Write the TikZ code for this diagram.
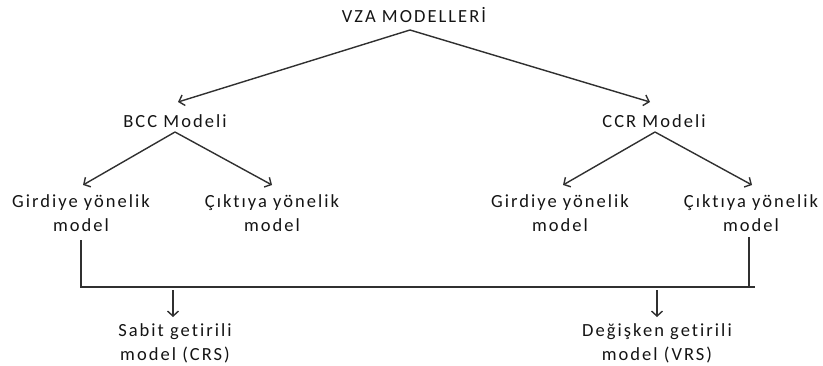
\documentclass[tikz,border=0pt]{standalone}
\usepackage{fontspec}
\setmainfont{Carlito}[LetterSpace=11,Ligatures={NoCommon,NoRequired,NoContextual}]
\usetikzlibrary{arrows.meta}
\definecolor{txt}{HTML}{141414}
\definecolor{ln}{HTML}{303030}
\begin{document}
\begin{tikzpicture}[x=1pt,y=-1pt,
  lbl/.style={anchor=base,inner sep=0pt,align=center,text=txt,
    font=\fontsize{18.5}{24}\selectfont},
  conn/.style={draw=ln,line width=1.4pt},
  arr/.style={conn,-{Straight Barb[length=5pt,width=11pt]}}]
\useasboundingbox (0,0) rectangle (823,365);
\node[lbl] (vza) at (414,22) {VZA MODELLERİ};
\node[lbl] (bcc) at (175,127) {BCC Modeli};
\node[lbl] (ccr) at (654,127) {CCR Modeli};
% multi-line nodes: base anchor is the baseline of the last line
\node[lbl] (gl) at (81,231) {Girdiye yönelik\\model};
\node[lbl] (cl) at (272,231) {Çıktıya yönelik\\model};
\node[lbl] (gr) at (560,231) {Girdiye yönelik\\model};
\node[lbl] (cr) at (751,231) {Çıktıya yönelik\\model};
\node[lbl] (crs) at (175,360) {Sabit getirili\\model (CRS)};
\node[lbl] (vrs) at (657,360) {Değişken getirili\\model (VRS)};
\coordinate (jl) at (81,287);
\coordinate (je) at (755,287);
% top level
\draw[arr] ([xshift=-4pt,yshift=-8pt]vza.base) -- ([xshift=3pt,yshift=25pt]bcc.base);
\draw[arr] ([xshift=-4pt,yshift=-8pt]vza.base) -- ([xshift=-4pt,yshift=25pt]ccr.base);
% second level
\draw[arr] ([yshift=-5pt]bcc.base) -- ([xshift=2pt,yshift=46pt]gl.base);
\draw[arr] ([yshift=-5pt]bcc.base) -- ([yshift=46pt]cl.base);
\draw[arr] ([xshift=1pt,yshift=-5pt]ccr.base) -- ([xshift=3pt,yshift=46pt]gr.base);
\draw[arr] ([xshift=1pt,yshift=-5pt]ccr.base) -- ([xshift=1pt,yshift=46pt]cr.base);
% merge lines
\draw[conn] ([yshift=-9pt]gl.base) -- (jl) -- (je);
\draw[conn] ([xshift=-2pt,yshift=-6pt]cr.base) -- ([xshift=-2pt]cr.base |- je);
% down arrows
\draw[arr] ([xshift=-2pt]crs.base |- je) ++(0,3) -- ([xshift=-2pt,yshift=43pt]crs.base);
\draw[arr] (vrs.base |- je) ++(0,3) -- ([yshift=43pt]vrs.base);
\end{tikzpicture}
\end{document}
